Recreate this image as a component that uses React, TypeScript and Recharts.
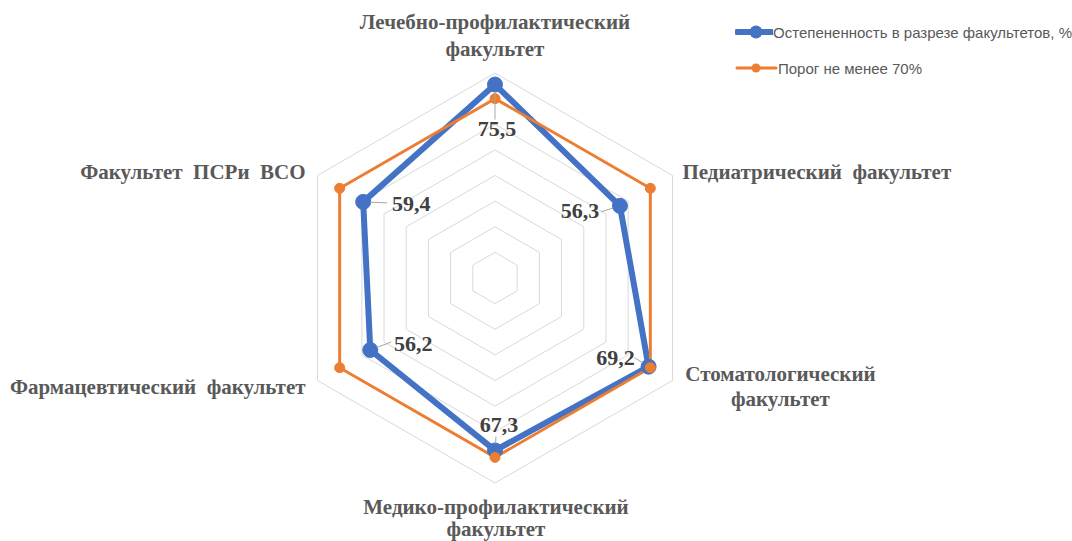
import React from "react";
import {
  RadarChart,
  Radar,
  PolarGrid,
  PolarAngleAxis,
  PolarRadiusAxis,
  Legend,
  LabelList,
} from "recharts";

// Faculties (clockwise from the top)
const FACULTIES = [
  "Лечебно-профилактический факультет",
  "Педиатрический факультет",
  "Стоматологический факультет",
  "Медико-профилактический факультет",
  "Фармацевтический факультет",
  "Факультет ПСРи ВСО",
];
// Share of staff with academic degrees, %
const DEGREE_SHARE = [75.5, 56.3, 69.2, 67.3, 56.2, 59.4];
// Threshold: not less than 70%
const THRESHOLD = [70, 70, 70, 70, 70, 70];
const RADIUS_TICKS = [0, 10, 20, 30, 40, 50, 60, 70, 80];

const SERIES_DEGREE = "Остепененность в разрезе факультетов, %";
const SERIES_THRESHOLD = "Порог не менее 70%";

const BLUE = "#4472C4";
const ORANGE = "#ED7D31";

const data = FACULTIES.map((name, i) => ({
  name,
  degree: DEGREE_SHARE[i],
  threshold: THRESHOLD[i],
}));

// how each category label is broken and placed around its tick point
const TICK_LAYOUT: Record<
  string,
  { lines: string[]; anchor: "start" | "middle" | "end"; dx: number; dy: number[] }
> = {
  "Лечебно-профилактический факультет": {
    lines: ["Лечебно-профилактический", "факультет"],
    anchor: "middle",
    dx: 0,
    dy: [-36, -9],
  },
  "Педиатрический факультет": {
    lines: ["Педиатрический  факультет"],
    anchor: "start",
    dx: 3,
    dy: [7],
  },
  "Стоматологический факультет": {
    lines: ["Стоматологический", "факультет"],
    anchor: "middle",
    dx: 101,
    dy: [-4, 21],
  },
  "Медико-профилактический факультет": {
    lines: ["Медико-профилактический", "факультет"],
    anchor: "middle",
    dx: 1,
    dy: [23, 45],
  },
  "Фармацевтический факультет": {
    lines: ["Фармацевтический  факультет"],
    anchor: "end",
    dx: -5,
    dy: [9],
  },
  "Факультет ПСРи ВСО": {
    lines: ["Факультет  ПСРи  ВСО"],
    anchor: "end",
    dx: -5,
    dy: [7],
  },
};

// value label offsets from the point: text centre and leader start
const VALUE_LABEL_LAYOUT = [
  { tx: 2, ty: 44, lx: 0, ly: 35 },
  { tx: -40, ty: 5, lx: -19, ly: 6 },
  { tx: -33, ty: -9, lx: -14, ly: -9 },
  { tx: 4, ty: -26, lx: 1, ly: -14 },
  { tx: 43, ty: -7, lx: 21, ly: -8 },
  { tx: 48, ty: 2, lx: 24, ly: 1 },
];

const serif = "'Liberation Serif', 'Times New Roman', serif";
const sans = "'Liberation Sans', Arial, sans-serif";

function FacultyTick(props: any) {
  const { x, y, payload } = props;
  const layout = TICK_LAYOUT[payload.value] || {
    lines: [payload.value],
    anchor: "middle",
    dx: 0,
    dy: [0],
  };
  return (
    <text
      x={x + layout.dx}
      y={y}
      textAnchor={layout.anchor}
      fill="#595959"
      fontFamily={serif}
      fontWeight="bold"
      fontSize={21}
      style={{ whiteSpace: "pre" }}
    >
      {layout.lines.map((line, i) => (
        <tspan key={i} x={x + layout.dx} y={y + layout.dy[i]}>
          {line}
        </tspan>
      ))}
    </text>
  );
}

function ValueLabel(props: any) {
  const { x, y, value, index } = props;
  const l = VALUE_LABEL_LAYOUT[index];
  if (!l || x == null || y == null) return null;
  const len = Math.hypot(l.lx, l.ly);
  const ex = x + (l.lx / len) * 7;
  const ey = y + (l.ly / len) * 7;
  return (
    <g>
      <line
        x1={x + l.lx}
        y1={y + l.ly}
        x2={ex}
        y2={ey}
        stroke="#a6a6a6"
        strokeWidth={1}
      />
      <text
        x={x + l.tx}
        y={y + l.ty}
        textAnchor="middle"
        dominantBaseline="central"
        fill="#404040"
        fontFamily={serif}
        fontWeight="bold"
        fontSize={22}
      >
        {Number(value).toFixed(1).replace(".", ",")}
      </text>
    </g>
  );
}

function LegendContent(props: any) {
  const items = props.payload || [];
  return (
    <div style={{ display: "flex", flexDirection: "column", gap: 16 }}>
      {items.map((item: any) => {
        const thick = item.value === SERIES_DEGREE;
        return (
          <div
            key={item.value}
            style={{ display: "flex", alignItems: "center", height: 20 }}
          >
            <svg width={43} height={20} style={{ display: "block" }}>
              <line
                x1={2}
                x2={41}
                y1={10}
                y2={10}
                stroke={item.color}
                strokeWidth={thick ? 6 : 3}
                strokeLinecap="round"
              />
              <circle cx={21} cy={10} r={thick ? 6.5 : 4.5} fill={item.color} />
            </svg>
            <span
              style={{
                fontFamily: sans,
                fontSize: 15,
                color: "#595959",
                whiteSpace: "nowrap",
              }}
            >
              {item.value}
            </span>
          </div>
        );
      })}
    </div>
  );
}

export default function App() {
  return (
    <div style={{ position: "absolute", left: 0, top: 0, background: "#fff" }}>
      <RadarChart
        width={1072}
        height={541}
        data={data}
        cx={495}
        cy={278}
        outerRadius={205}
        startAngle={90}
        endAngle={-270}
      >
        <PolarGrid gridType="polygon" radialLines={false} stroke="#d9d9d9" />
        <PolarAngleAxis
          dataKey="name"
          tick={<FacultyTick />}
          tickLine={false}
          axisLine={false}
        />
        <PolarRadiusAxis
          domain={[0, 80]}
          ticks={RADIUS_TICKS}
          tick={false}
          axisLine={false}
        />
        <Radar
          name={SERIES_DEGREE}
          dataKey="degree"
          stroke={BLUE}
          strokeWidth={6}
          fill="none"
          fillOpacity={0}
          dot={{ r: 7.5, fill: BLUE, stroke: BLUE, strokeWidth: 1, fillOpacity: 1 }}
          isAnimationActive={false}
        >
          <LabelList dataKey="degree" content={<ValueLabel />} />
        </Radar>
        <Radar
          name={SERIES_THRESHOLD}
          dataKey="threshold"
          stroke={ORANGE}
          strokeWidth={3}
          fill="none"
          fillOpacity={0}
          dot={{ r: 5, fill: ORANGE, stroke: ORANGE, strokeWidth: 1, fillOpacity: 1 }}
          isAnimationActive={false}
        />
        <Legend
          content={<LegendContent />}
          wrapperStyle={{ left: 735, top: 22, width: 337, right: "auto", bottom: "auto" }}
        />
      </RadarChart>
    </div>
  );
}
